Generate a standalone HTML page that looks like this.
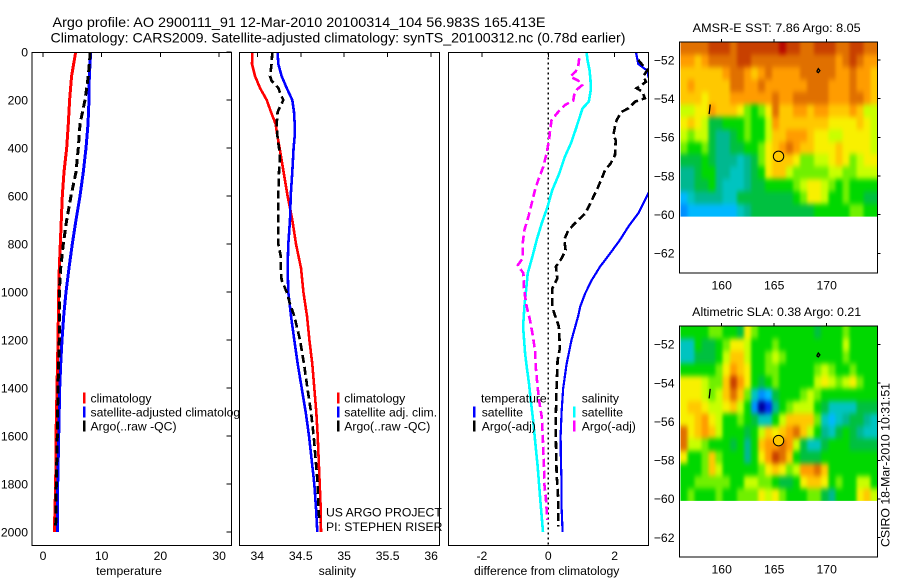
<!DOCTYPE html>
<html lang="en">
<head>
<meta charset="utf-8">
<title>Argo profile</title>
<style>
html,body{margin:0;padding:0;background:#fff;width:900px;height:580px;overflow:hidden}
svg{display:block}
text{font-family:"Liberation Sans",sans-serif;font-size:12.2px;fill:#000}
.t{font-size:14px}
</style>
</head>
<body>
<svg id="fig" width="900" height="580" viewBox="0 0 900 580" xmlns="http://www.w3.org/2000/svg">
<defs>
<filter id="map-smooth" filterUnits="userSpaceOnUse" x="660" y="20" width="240" height="520" color-interpolation-filters="sRGB">
<feGaussianBlur stdDeviation="1.7 2.7"/>
<feComponentTransfer><feFuncA type="linear" slope="50" intercept="0"/></feComponentTransfer>
</filter>
</defs>
<rect width="900" height="580" fill="#fff"/>
<text class="t" x="52.5" y="27" textLength="493" lengthAdjust="spacingAndGlyphs">Argo profile: AO 2900111_91 12-Mar-2010 20100314_104 56.983S 165.413E</text>
<text class="t" x="50.5" y="42.5" textLength="575" lengthAdjust="spacingAndGlyphs">Climatology: CARS2009. Satellite-adjusted climatology: synTS_20100312.nc (0.78d earlier)</text>
<g id="root"></g>
</svg>
<script>
// ---- profile data (depth in metres) ----
const depthTicks = [0,200,400,600,800,1000,1200,1400,1600,1800,2000];
const tempTicks = [0,10,20,30];
const salTicks = [34,34.5,35,35.5,36];
const salTickLabels = ['34','34.5','35','35.5','36'];
const diffTicks = [-2,0,2];
const diffTickLabels = ['-2','0','2'];
const lonTicks = [160,165,170];
const latTicks = [-52,-54,-56,-58,-60,-62];

const tempClimDepth = [0,100,200,300,400,500,600,700,800,900,1000,1200,1400,1600,1800,2000];
const tempClim = [5.57,4.88,4.54,4.31,4.03,3.58,3.29,3.12,2.95,2.78,2.67,2.56,2.39,2.21,2.16,1.93];
const tempSatDepth = [0,100,200,300,400,500,600,700,800,900,1000,1100,1200,1300,1400,1600,1800,2000];
const tempSat = [8.12,7.89,7.84,7.67,7.33,6.87,6.3,5.62,4.99,4.43,3.92,3.53,3.24,3.01,2.84,2.67,2.5,2.44];
const tempArgoDepth = [0,100,200,300,400,500,600,700,800,900,1000,1100,1200,1400,1600,1800,1980];
const tempArgo = [8.05,7.72,7.16,6.3,6.02,5.62,4.77,4.03,3.46,3.01,2.78,2.78,2.78,2.56,2.44,2.27,2.16];

const salClimDepth = [0,50,100,150,200,250,300,350,400,500,600,650,700,800,900,1000,1100,1200,1300,1400,1500,1600,1700,1800,1900,2000];
const salClim = [33.943,33.939,33.974,34.031,34.108,34.158,34.211,34.231,34.257,34.303,34.349,34.376,34.403,34.445,34.503,34.530,34.572,34.599,34.633,34.656,34.679,34.695,34.706,34.718,34.729,34.733];
const salSatDepth = [0,50,100,150,200,250,300,350,400,500,600,700,800,900,1000,1100,1200,1300,1400,1500,1600,1700,1800,1900,2000];
const salSat = [34.234,34.242,34.280,34.338,34.403,34.422,34.430,34.430,34.418,34.403,34.384,34.376,34.357,34.349,34.357,34.388,34.426,34.465,34.511,34.557,34.595,34.626,34.656,34.675,34.691];
const salArgoDepth = [0,50,100,120,150,180,200,250,300,350,400,450,500,600,700,800,850,900,950,1000,1050,1100,1200,1300,1400,1500,1600,1700,1800,1900,1960];
const salArgo = [34.173,34.165,34.146,34.165,34.242,34.273,34.300,34.234,34.223,34.231,34.250,34.261,34.250,34.242,34.242,34.242,34.269,34.269,34.280,34.338,34.376,34.426,34.491,34.537,34.576,34.618,34.649,34.672,34.695,34.702,34.718];

const diffTempSatDepth = [0,50,80,100,200,300,400,500,596,672,728,783,839,894,950,1006,1061,1100,1200,1300,1400,1500,1600,1700,1800,1900,2000];
const diffTempSat = [2.64,2.71,3.0,3.01,3.3,3.36,3.3,3.29,2.99,2.71,2.41,2.16,1.86,1.56,1.31,1.11,0.96,0.9,0.7,0.55,0.45,0.4,0.37,0.38,0.4,0.4,0.43];
const diffTempArgoDepth = [33,50,75,100,124,138,151,165,193,207,235,249,283,311,346,367,429,464,492,533,575,617,672,700,721,749,783,825,860,894,943,985,1061,1089,1144,1235,1283,1394,1506,1617,1756,1867,1978];
const diffTempArgo = [2.71,2.81,2.99,2.86,2.94,2.81,2.66,2.83,2.91,2.61,2.41,2.21,2.06,2.01,1.96,2.03,2.01,1.88,1.71,1.59,1.46,1.31,1.12,0.9,0.75,0.58,0.48,0.52,0.4,0.23,0.27,0.12,0.12,0.18,0.32,0.35,0.28,0.25,0.23,0.23,0.25,0.3,0.3];
const diffSalSatDepth = [0,33,75,117,158,207,235,283,325,381,436,506,575,644,714,783,853,922,992,1061,1144,1200,1256,1311,1381,1450,1519,1589,1658,1728,1797,1867,1936,2000];
const diffSalSat = [1.15,1.18,1.24,1.27,1.28,1.22,1.03,0.92,0.82,0.68,0.5,0.33,0.12,-0.02,-0.2,-0.35,-0.48,-0.62,-0.67,-0.72,-0.76,-0.73,-0.7,-0.65,-0.58,-0.53,-0.47,-0.42,-0.37,-0.32,-0.28,-0.24,-0.2,-0.16];
const diffSalArgoDepth = [26,61,82,103,119,138,158,179,203,221,249,283,311,367,422,478,533,575,631,686,742,797,860,888,922,992,1061,1117,1172,1242,1311,1381,1450,1519,1589,1658,1728,1797,1867,1950];
const diffSalArgo = [0.93,0.9,0.82,0.66,0.9,1.02,0.85,0.78,0.75,0.5,0.3,0.1,0.07,0.02,-0.05,-0.15,-0.3,-0.4,-0.5,-0.6,-0.72,-0.77,-0.77,-0.92,-0.75,-0.73,-0.65,-0.55,-0.48,-0.4,-0.38,-0.33,-0.28,-0.2,-0.17,-0.15,-0.13,-0.12,-0.07,-0.03];

// ---- map data: colour-scale level per grid cell, north to south, west to east ----
const sstGrid = [
[13,13,13,13,14,14,14,13,14,14,14,14,14,14,15,14,14,13,13,14,14,14,13,13,14,14,13,13],
[12,12,11,12,13,13,13,13,14,14,13,13,13,13,13,13,13,13,13,13,13,13,12,13,14,13,12,12],
[11,11,11,11,11,11,12,13,13,12,11,12,13,12,12,12,12,13,13,13,13,13,12,12,13,12,12,11],
[11,12,11,11,11,11,11,13,13,12,12,13,12,12,12,12,12,12,13,13,13,12,12,12,13,12,12,11],
[11,11,11,10,11,11,11,12,12,12,12,12,12,13,12,12,13,13,13,13,13,12,12,12,13,13,12,11],
[9,9,10,10,12,11,11,11,10,8,7,8,10,13,11,11,12,12,11,12,12,11,11,11,12,11,9,9],
[10,11,10,9,6,6,7,7,7,8,7,7,9,12,11,11,11,11,11,11,11,10,10,10,10,11,10,9],
[9,8,9,9,6,5,5,6,7,8,7,7,9,11,11,12,12,12,11,10,10,9,9,10,10,10,10,9],
[8,7,7,8,6,5,5,6,6,7,7,8,10,11,12,13,12,11,11,10,10,10,11,10,10,10,10,9],
[6,6,6,7,6,5,5,5,4,5,6,8,10,11,11,11,10,8,8,9,9,10,11,10,8,9,10,10],
[5,5,6,7,7,5,5,4,4,5,6,7,10,11,11,9,8,8,8,8,8,9,9,8,8,9,9,9],
[5,5,6,6,7,5,4,4,4,5,6,6,7,7,7,7,8,9,10,10,9,8,7,8,7,7,7,7],
[3,4,5,5,5,5,4,4,6,6,6,6,6,6,6,6,7,8,10,10,9,7,7,8,7,7,6,6],
[2,3,3,3,3,3,3,3,4,5,6,6,6,6,6,6,6,6,6,7,7,7,7,7,8,8,7,7]
];
const slaGrid = [
[7,7,7,7,8,8,7,7,6,10,8,7,7,7,7,7,7,7,7,6,7,7,7,8,7,7,7,7],
[4,4,7,6,6,7,8,10,10,9,7,7,7,8,7,7,7,7,7,7,7,7,7,9,7,7,7,7],
[4,4,6,6,6,7,9,11,11,9,7,7,8,9,8,7,7,7,7,7,7,7,7,8,7,7,7,7],
[7,7,7,7,7,8,10,12,11,10,7,7,8,8,7,7,7,7,7,8,9,8,7,7,8,7,7,7],
[10,10,10,9,8,8,11,14,12,10,7,6,7,8,7,7,7,7,7,9,10,9,8,9,10,8,7,7],
[10,10,10,9,8,9,11,13,11,8,4,2,3,6,7,7,7,8,9,8,7,7,7,7,7,7,7,7],
[10,11,11,10,9,9,10,11,9,7,2,0,1,5,7,8,9,9,9,7,6,4,4,4,4,6,6,6],
[10,10,11,12,10,9,7,7,8,7,6,4,4,7,9,11,11,11,11,8,4,3,4,5,6,6,5,4],
[13,10,11,12,11,9,7,7,7,6,7,9,11,10,11,12,13,11,9,7,5,4,6,7,6,5,4,4],
[13,9,9,8,7,7,7,6,7,5,7,11,12,12,13,12,9,6,4,4,6,7,7,7,6,6,6,6],
[10,7,7,8,11,8,7,7,7,5,7,10,12,14,13,11,7,6,6,6,7,7,7,7,7,7,7,7],
[7,7,7,8,11,9,7,7,7,7,7,8,10,11,10,8,9,12,12,13,11,7,7,7,7,7,7,7],
[7,7,8,8,8,8,8,7,7,9,9,8,8,7,6,6,7,10,11,11,10,7,8,7,7,9,9,7],
[7,8,7,7,7,8,7,7,8,8,8,10,9,10,8,7,7,7,8,8,6,5,7,7,7,10,11,9]
];
const argoLon = 165.413;
const argoLat = -56.983;
const sstArgoLevel = 11;
const slaArgoLevel = 10.6;
const islandA = [[158.9,-54.3],[158.85,-54.6],[158.8,-54.8]];
const islandB = [[169.05,-52.6],[169.2,-52.45],[169.35,-52.55],[169.2,-52.65],[169.05,-52.6]];

const colourLevels = ['#0000a0','#0030f0','#0090ff','#00b8ff','#00c4c0','#00b890','#00c040','#00d800','#70f000','#c8ff00','#f8f000','#ffc800','#ff9c00','#e07000','#c84000','#b80800'];

// ---- helpers ----
const NS = 'http://www.w3.org/2000/svg';
const root = document.getElementById('root');
function mk(tag, parent, attrs, txt){
  const e = document.createElementNS(NS, tag);
  for (const k in attrs) e.setAttribute(k, attrs[k]);
  if (txt !== undefined) e.textContent = txt;
  (parent || root).appendChild(e);
  return e;
}
function levelColour(v){
  const i = Math.max(0, Math.min(colourLevels.length - 1, Math.round(v)));
  return colourLevels[i];
}
const yDepth = d => 52 + 0.24 * d;
const xTemp = v => 43 + 5.87 * v;
const xSal = v => 257.3 + 86.9 * (v - 34);
const xDiff = v => 548.3 + 33.2 * v;
const lonX = lon => 721.7 + 10.5 * (lon - 160);
const latY = (lat, y52) => y52 + 19.33 * (-52 - lat);

function panelBox(name, x0, x1){
  const g = mk('g');
  
  
  mk('rect', g, {x:x0, y:52.5, width:x1-x0, height:493, fill:'#fff'});
  const id = 'clip-' + name;
  const cp = mk('clipPath', g, {id:id});
  mk('rect', cp, {x:x0, y:52.5, width:x1-x0, height:493});
  return {g:g, clip:'url(#' + id + ')', x0:x0, x1:x1};
}
function frame(p){
  const r = mk('rect', p.g, {x:p.x0, y:52.5, width:p.x1-p.x0, height:493, fill:'none', stroke:'#000', 'stroke-width':1.2, 'shape-rendering':'crispEdges'});
  
  
}
function series(p, name, depths, values, xf, colour, dashed, w){
  const pts = depths.map((d, i) => xf(values[i]).toFixed(1) + ',' + yDepth(d).toFixed(1)).join(' ');
  const a = {points:pts, fill:'none', stroke:colour, 'stroke-width':w || 2.6, 'clip-path':p.clip, 'shape-rendering':'crispEdges'};
  if (dashed) a['stroke-dasharray'] = '8 4';
  const l = mk('polyline', p.g, a);
  
  
}
function xTicks(p, ticks, labels, xf, title, titleX){
  ticks.forEach((t, i) => {
    const x = xf(t);
    const tk = mk('line', p.g, {x1:x, x2:x, y1:52.5, y2:57, stroke:'#000', 'shape-rendering':'crispEdges'});
    
    
    const lb = mk('text', p.g, {x:x, y:560, 'text-anchor':'middle'}, labels[i]);
    
    
  });
  const tt = mk('text', p.g, {x:titleX, y:575, 'text-anchor':'middle'}, title);
  
  
}
function legendEntry(p, barX, textX, y, colour, label){
  if (colour) {
    const b = mk('rect', p.g, {x:barX, y:y-5.5, width:2.6, height:11, fill:colour, 'shape-rendering':'crispEdges'});
    
    
  }
  const t = mk('text', p.g, {x:textX, y:y+4.3}, label);
  
  
}

// ---- temperature panel ----
const p1 = panelBox('temperature-panel', 32, 231.5);
series(p1, 'temperature-climatology-line', tempClimDepth, tempClim, xTemp, '#ff0000', false, 3);
series(p1, 'temperature-satellite-line', tempSatDepth, tempSat, xTemp, '#0000ff', false, 3);
series(p1, 'temperature-argo-line', tempArgoDepth, tempArgo, xTemp, '#000000', true, 3);
frame(p1);
xTicks(p1, tempTicks, tempTicks.map(String), xTemp, 'temperature', 129);
depthTicks.forEach(d => {
  const y = yDepth(d);
  const tk = mk('line', p1.g, {x1:226.5, x2:231.5, y1:y, y2:y, stroke:'#000', 'shape-rendering':'crispEdges'});
  
  
  const lb = mk('text', p1.g, {x:28, y:y+4.3, 'text-anchor':'end'}, String(d));
  
  
});
legendEntry(p1, 83, 90.5, 398, '#ff0000', 'climatology');
legendEntry(p1, 83, 90.5, 412, '#0000ff', 'satellite-adjusted climatology');
legendEntry(p1, 83, 90.5, 426, '#000000', 'Argo(..raw -QC)');

// ---- salinity panel ----
const p2 = panelBox('salinity-panel', 239.5, 439.5);
series(p2, 'salinity-climatology-line', salClimDepth, salClim, xSal, '#ff0000');
series(p2, 'salinity-satellite-line', salSatDepth, salSat, xSal, '#0000ff');
series(p2, 'salinity-argo-line', salArgoDepth, salArgo, xSal, '#000000', true);
frame(p2);
xTicks(p2, salTicks, salTickLabels, xSal, 'salinity', 337.3);
legendEntry(p2, 337, 344.3, 398, '#ff0000', 'climatology');
legendEntry(p2, 337, 344.3, 412, '#0000ff', 'satellite adj. clim.');
legendEntry(p2, 337, 344.3, 426, '#000000', 'Argo(..raw -QC)');
legendEntry(p2, 0, 326, 512, null, 'US ARGO PROJECT');
legendEntry(p2, 0, 326, 526.5, null, 'PI: STEPHEN RISER');

// ---- difference panel ----
const p3 = panelBox('difference-panel', 448.5, 648.5);
const zero = mk('line', p3.g, {x1:xDiff(0), x2:xDiff(0), y1:52.5, y2:545.5, stroke:'#000', 'stroke-width':1.2, 'stroke-dasharray':'2 3', 'shape-rendering':'crispEdges'});


series(p3, 'difference-temperature-satellite-line', diffTempSatDepth, diffTempSat, xDiff, '#0000ff', false, 2.2);
series(p3, 'difference-temperature-argo-line', diffTempArgoDepth, diffTempArgo, xDiff, '#000000', true);
series(p3, 'difference-salinity-satellite-line', diffSalSatDepth, diffSalSat, xDiff, '#00ffff');
series(p3, 'difference-salinity-argo-line', diffSalArgoDepth, diffSalArgo, xDiff, '#ff00ff', true);
frame(p3);
xTicks(p3, diffTicks, diffTickLabels, xDiff, 'difference from climatology', 546.7);
legendEntry(p3, 0, 481, 398, null, 'temperature');
legendEntry(p3, 473, 481.7, 412, '#0000ff', 'satellite');
legendEntry(p3, 473, 481.7, 426, '#000000', 'Argo(-adj)');
legendEntry(p3, 0, 581.7, 398, null, 'salinity');
legendEntry(p3, 573, 581.7, 412, '#00ffff', 'satellite');
legendEntry(p3, 573, 581.7, 426, '#ff00ff', 'Argo(-adj)');

// ---- maps ----
function drawMap(name, grid, top, y52, titleText, titleY, titleLen, labelY, argoLevel){
  const g = mk('g');
  
  
  const left = 679.5, right = 877.5, bottom = top + 231;
  mk('rect', g, {x:left, y:top, width:right-left, height:bottom-top, fill:'#fff'});
  const rows = grid.length, cols = grid[0].length;
  const cw = (right - left - 1) / cols;
  const cellsBottom = latY(-60.1, y52);
  const rh = (cellsBottom - top) / rows;
  const clipId = 'clip-' + name;
  const cp = mk('clipPath', g, {id:clipId});
  mk('rect', cp, {x:left + 1, y:top, width:right-left-1, height:cellsBottom-top});
  const clipG = mk('g', g, {'clip-path':'url(#' + clipId + ')'});
  const cellsG = mk('g', clipG, {filter:'url(#map-smooth)'});
  grid.forEach((row, r) => row.forEach((v, c) => {
    const cell = mk('rect', cellsG, {x:(left + 1 + c * cw).toFixed(2), y:(top + r * rh).toFixed(2), width:(cw + 0.4).toFixed(2), height:(rh + 0.4).toFixed(2), fill:levelColour(v), 'shape-rendering':'crispEdges'});
    
    
  }));
  [islandA, islandB].forEach(isl => {
    const pts = isl.map(q => lonX(q[0]).toFixed(1) + ',' + latY(q[1], y52).toFixed(1)).join(' ');
    const l = mk('polyline', g, {points:pts, fill:'none', stroke:'#000', 'stroke-width':1.3});
    
    
  });
  const c = mk('circle', g, {cx:lonX(argoLon), cy:latY(argoLat, y52), r:5.2, fill:levelColour(argoLevel), stroke:'#000', 'stroke-width':1});
  
  
  const fr = mk('rect', g, {x:left, y:top, width:right-left, height:bottom-top, fill:'none', stroke:'#000', 'stroke-width':1.2, 'shape-rendering':'crispEdges'});
  
  
  lonTicks.forEach(t => {
    const x = lonX(t);
    const tk = mk('line', g, {x1:x, x2:x, y1:top-3, y2:top, stroke:'#000', 'shape-rendering':'crispEdges'});
    
    
    const lb = mk('text', g, {x:x, y:labelY, 'text-anchor':'middle'}, String(t));
    
    
  });
  latTicks.forEach(t => {
    const y = latY(t, y52);
    const tk = mk('line', g, {x1:right, x2:right+3, y1:y, y2:y, stroke:'#000', 'shape-rendering':'crispEdges'});
    
    
    const lb = mk('text', g, {x:674.5, y:y+4.3, 'text-anchor':'end'}, '\u2212' + Math.abs(t));
    
    
  });
  const tt = mk('text', g, {x:776.7, y:titleY, 'text-anchor':'middle', textLength:titleLen, lengthAdjust:'spacingAndGlyphs'}, titleText);
  
  
}
drawMap('sst-map', sstGrid, 42, 60, 'AMSR-E SST: 7.86 Argo: 8.05', 32, 168, 289.5, sstArgoLevel);
drawMap('sla-map', slaGrid, 326, 344.3, 'Altimetric SLA: 0.38 Argo: 0.21', 316, 169, 573.5, slaArgoLevel);

const stamp = mk('text', root, {x:0, y:0, transform:'translate(889.5,547) rotate(-90)', textLength:164, lengthAdjust:'spacingAndGlyphs'}, 'CSIRO 18-Mar-2010 10:31:51');


</script>
</body>
</html>
